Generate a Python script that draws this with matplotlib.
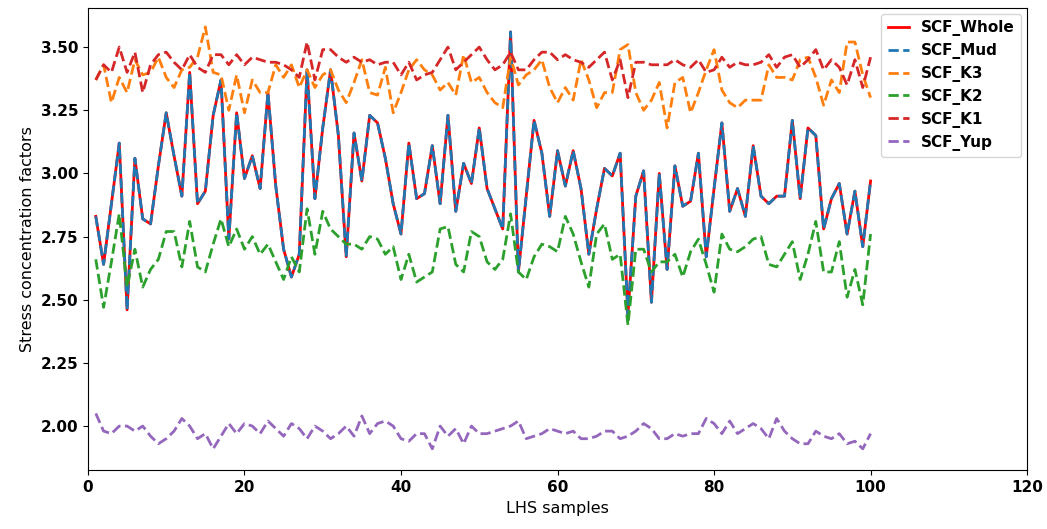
import numpy as np
import matplotlib
matplotlib.use('Agg')
import matplotlib.pyplot as plt

# LHS sample index
samples = np.arange(1, 101)

scf_whole = [2.83, 2.64, 2.88, 3.12, 2.46, 3.06, 2.82, 2.80, 3.03, 3.24,
             3.07, 2.91, 3.40, 2.88, 2.93, 3.23, 3.37, 2.74, 3.24, 2.98,
             3.07, 2.94, 3.32, 2.95, 2.70, 2.59, 2.68, 3.41, 2.90, 3.18,
             3.41, 3.15, 2.67, 3.16, 2.97, 3.23, 3.20, 3.06, 2.88, 2.76,
             3.12, 2.90, 2.92, 3.11, 2.88, 3.23, 2.85, 3.04, 2.96, 3.18,
             2.94, 2.86, 2.78, 3.56, 2.61, 2.91, 3.21, 3.08, 2.83, 3.09,
             2.95, 3.09, 2.94, 2.68, 2.86, 3.02, 2.99, 3.08, 2.44, 2.91,
             3.01, 2.49, 3.00, 2.62, 3.03, 2.87, 2.89, 3.08, 2.67, 2.94,
             3.20, 2.85, 2.94, 2.83, 3.11, 2.91, 2.88, 2.91, 2.91, 3.21,
             2.90, 3.18, 3.15, 2.78, 2.90, 2.96, 2.76, 2.93, 2.71, 2.97]

# mud model gives the same factors as the whole model
scf_mud = list(scf_whole)

scf_k3 = [3.37, 3.43, 3.28, 3.38, 3.32, 3.45, 3.39, 3.40, 3.46, 3.38,
          3.34, 3.41, 3.42, 3.46, 3.58, 3.40, 3.39, 3.25, 3.39, 3.24,
          3.37, 3.32, 3.32, 3.43, 3.38, 3.43, 3.34, 3.41, 3.34, 3.39,
          3.41, 3.33, 3.28, 3.36, 3.45, 3.32, 3.31, 3.42, 3.24, 3.32,
          3.41, 3.45, 3.41, 3.39, 3.33, 3.36, 3.31, 3.47, 3.36, 3.38,
          3.32, 3.28, 3.26, 3.46, 3.35, 3.39, 3.41, 3.45, 3.34, 3.28,
          3.34, 3.29, 3.45, 3.37, 3.26, 3.32, 3.32, 3.49, 3.51, 3.32,
          3.25, 3.29, 3.36, 3.18, 3.36, 3.38, 3.24, 3.32, 3.41, 3.49,
          3.33, 3.28, 3.26, 3.29, 3.29, 3.29, 3.43, 3.38, 3.38, 3.37,
          3.45, 3.46, 3.38, 3.27, 3.37, 3.32, 3.52, 3.52, 3.39, 3.30]

scf_k2 = [2.66, 2.47, 2.65, 2.84, 2.55, 2.70, 2.55, 2.62, 2.66, 2.77,
          2.77, 2.63, 2.81, 2.63, 2.61, 2.72, 2.82, 2.71, 2.78, 2.70,
          2.75, 2.68, 2.72, 2.65, 2.58, 2.67, 2.61, 2.86, 2.68, 2.85,
          2.78, 2.75, 2.72, 2.72, 2.70, 2.75, 2.74, 2.68, 2.71, 2.58,
          2.68, 2.57, 2.59, 2.61, 2.78, 2.79, 2.64, 2.61, 2.77, 2.75,
          2.65, 2.62, 2.66, 2.84, 2.61, 2.58, 2.67, 2.72, 2.71, 2.69,
          2.83, 2.76, 2.65, 2.55, 2.76, 2.80, 2.66, 2.68, 2.40, 2.70,
          2.70, 2.61, 2.65, 2.65, 2.68, 2.59, 2.69, 2.74, 2.64, 2.53,
          2.76, 2.70, 2.69, 2.71, 2.74, 2.75, 2.64, 2.63, 2.68, 2.73,
          2.58, 2.68, 2.81, 2.61, 2.61, 2.73, 2.51, 2.62, 2.48, 2.76]

scf_k1 = [3.37, 3.43, 3.40, 3.50, 3.40, 3.48, 3.32, 3.43, 3.47, 3.48,
          3.44, 3.41, 3.47, 3.42, 3.40, 3.47, 3.47, 3.43, 3.47, 3.43,
          3.46, 3.45, 3.44, 3.44, 3.43, 3.41, 3.38, 3.52, 3.37, 3.49,
          3.49, 3.46, 3.44, 3.46, 3.44, 3.45, 3.43, 3.44, 3.44, 3.39,
          3.44, 3.37, 3.39, 3.40, 3.45, 3.50, 3.41, 3.44, 3.47, 3.50,
          3.45, 3.41, 3.43, 3.48, 3.41, 3.41, 3.45, 3.48, 3.48, 3.45,
          3.47, 3.45, 3.44, 3.42, 3.45, 3.48, 3.37, 3.45, 3.30, 3.44,
          3.44, 3.43, 3.43, 3.43, 3.45, 3.43, 3.42, 3.45, 3.40, 3.41,
          3.46, 3.42, 3.44, 3.43, 3.43, 3.44, 3.47, 3.42, 3.46, 3.47,
          3.42, 3.45, 3.49, 3.41, 3.45, 3.42, 3.35, 3.45, 3.34, 3.46]

scf_yup = [2.05, 1.98, 1.97, 2.00, 2.00, 1.98, 2.00, 1.96, 1.93, 1.95,
           1.98, 2.03, 2.00, 1.95, 1.97, 1.91, 1.96, 2.01, 1.97, 2.01,
           2.00, 1.97, 2.02, 1.99, 1.96, 2.01, 1.99, 1.95, 2.00, 1.98,
           1.95, 1.97, 2.00, 1.96, 2.04, 1.97, 2.01, 2.02, 2.00, 1.95,
           1.94, 1.97, 1.97, 1.91, 2.00, 1.96, 1.99, 1.93, 2.00, 1.97,
           1.97, 1.98, 1.99, 2.00, 2.02, 1.95, 1.96, 1.97, 1.99, 1.98,
           1.97, 1.98, 1.95, 1.95, 1.96, 1.98, 1.98, 1.95, 1.96, 1.98,
           2.01, 1.99, 1.95, 1.95, 1.97, 1.96, 1.97, 1.97, 2.03, 2.01,
           1.97, 2.02, 1.97, 1.99, 2.01, 1.99, 1.95, 2.03, 1.98, 1.95,
           1.93, 1.93, 1.98, 1.96, 1.95, 1.97, 1.93, 1.94, 1.91, 1.97]

fig, ax = plt.subplots(figsize=(10.47, 5.29), dpi=100)
fig.subplots_adjust(left=0.084, right=0.981, top=0.985, bottom=0.111)

ax.plot(samples, scf_whole, color='red', lw=2, label='SCF_Whole')
ax.plot(samples, scf_mud, color='tab:blue', ls='--', lw=2, label='SCF_Mud')
ax.plot(samples, scf_k3, color='tab:orange', ls='--', lw=2, label='SCF_K3')
ax.plot(samples, scf_k2, color='tab:green', ls='--', lw=2, label='SCF_K2')
ax.plot(samples, scf_k1, color='tab:red', ls='--', lw=2, label='SCF_K1')
ax.plot(samples, scf_yup, color='tab:purple', ls='--', lw=2, label='SCF_Yup')

ax.set_xlim(0, 120)
ax.set_ylim(1.825, 3.655)
ax.set_xlabel('LHS samples', fontsize=11.5)
ax.set_ylabel('Stress concentration factors', fontsize=11.5)
for lbl in ax.get_xticklabels() + ax.get_yticklabels():
    lbl.set_fontweight('bold')
    lbl.set_fontsize(11)

ax.legend(loc='upper right', prop={'weight': 'bold', 'size': 11},
          handlelength=1.4, labelspacing=0.45, borderaxespad=0.4)

plt.savefig('out.png')
